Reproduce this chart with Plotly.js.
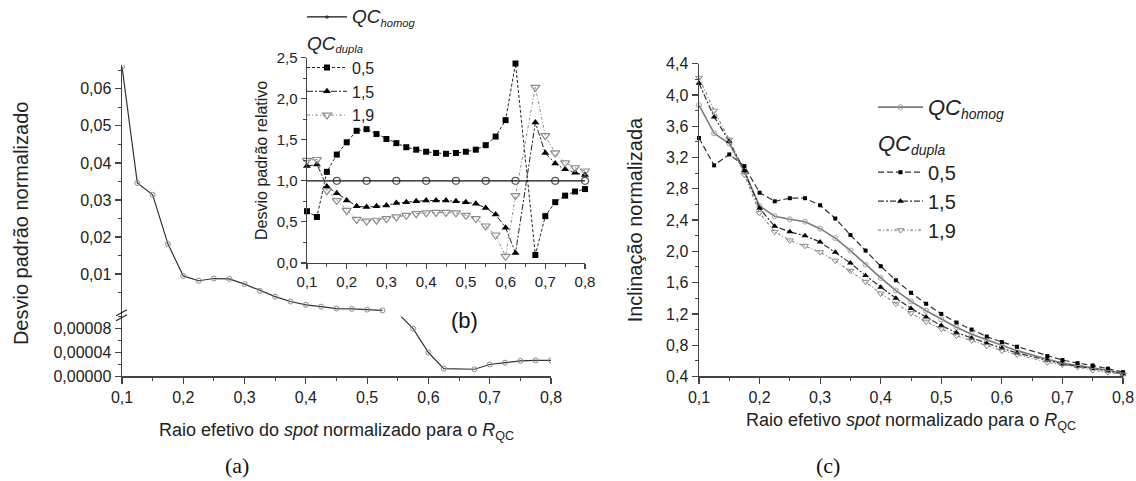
<!DOCTYPE html>
<html><head><meta charset="utf-8">
<script src="https://cdn.plot.ly/plotly-3.0.1.min.js"></script>
<style>html,body{margin:0;padding:0;background:#fff;}#chart{width:1136px;height:481px;}</style>
</head><body><div id="chart"></div>
<script>
// ---------- data ----------
const spotRadius = [0.1,0.125,0.15,0.175,0.2,0.225,0.25,0.275,0.3,0.325,0.35,0.375,0.4,0.425,0.45,0.475,0.5,0.525,0.55,0.575,0.6,0.625,0.675,0.7,0.725,0.75,0.775,0.8];

// (a) normalized standard deviation, read on the upper scale and on the lower (broken) scale
const sigmaNormUpper = [0.066,0.0346,0.0314,0.0181,0.0095,0.0082,0.0088,0.0087,0.0073,0.0055,0.0039,0.0026,0.0017,0.0012,0.0007,0.0006,0.0004,0.0002,null,null,null,null,null,null,null,null,null,null];
const sigmaNormLower = [null,null,null,null,null,null,null,null,null,null,null,null,null,null,null,null,null,null,0.000106,0.00008,0.00004,0.000013,0.000012,0.00002,0.000023,0.000026,0.000027,0.000027];
const upperTickVals = [0.01,0.02,0.03,0.04,0.05,0.06];
const upperMinorVals = [0.005,0.015,0.025,0.035,0.045,0.055,0.065];
const lowerTickVals = [0,0.00004,0.00008];
const lowerMinorVals = [0.00002,0.00006,0.0001];

// (b) relative standard deviation
const relHomog = [1,1,1,1,1,1,1,1,1,1,1,1,1,1,1,1,1,1,1,1,1,1,1,1,1,1,1,1];
const rel05 = [0.63,0.56,1.11,1.32,1.47,1.61,1.63,1.57,1.51,1.46,1.41,1.38,1.355,1.34,1.33,1.34,1.355,1.38,1.435,1.54,1.74,2.43,0.097,0.57,0.74,0.82,0.87,0.90];
const rel15 = [1.18,1.20,0.93,0.85,0.76,0.69,0.68,0.69,0.70,0.73,0.74,0.75,0.76,0.76,0.76,0.75,0.74,0.72,0.67,0.59,0.43,0.12,1.71,1.34,1.21,1.14,1.10,1.07];
const rel19 = [1.25,1.26,0.88,0.76,0.64,0.53,0.51,0.52,0.54,0.56,0.58,0.60,0.61,0.615,0.615,0.61,0.58,0.54,0.45,0.34,0.08,0.82,2.14,1.55,1.34,1.22,1.16,1.12];

// (c) normalized slope
const incHomog = [3.87,3.51,3.38,3.02,2.58,2.45,2.41,2.38,2.29,2.17,2.01,1.83,1.66,1.50,1.36,1.24,1.13,1.03,0.94,0.87,0.79,0.73,0.62,0.57,0.54,0.51,0.48,0.44];
const inc05 = [3.45,3.10,3.24,3.09,2.75,2.64,2.68,2.68,2.59,2.42,2.21,2.01,1.81,1.63,1.47,1.33,1.20,1.09,1.00,0.91,0.84,0.78,0.66,0.61,0.57,0.54,0.50,0.455];
const inc15 = [4.15,3.72,3.41,3.03,2.55,2.32,2.25,2.20,2.12,1.99,1.85,1.69,1.54,1.40,1.27,1.16,1.05,0.96,0.89,0.82,0.76,0.70,0.61,0.56,0.53,0.50,0.47,0.43];
const inc19 = [4.22,3.80,3.43,2.98,2.49,2.25,2.14,2.07,1.99,1.88,1.75,1.61,1.46,1.33,1.21,1.10,1.01,0.92,0.86,0.79,0.73,0.68,0.58,0.55,0.52,0.48,0.455,0.425];

const dupLabels = ['0,5','1,5','1,9'];

// ---------- helpers ----------
const W = 1136, H = 481;
const px = v => v / W;
const py = v => 1 - v / H;
const FONT = 'Liberation Sans, Arial, sans-serif';
const SERIF = 'Liberation Serif, Times New Roman, serif';
const AX = '#444';

function axis(extra) {
  return Object.assign({
    showline: true, linecolor: AX, linewidth: 1.5, mirror: false,
    ticks: 'outside', ticklen: 6, tickwidth: 1.2, tickcolor: AX,
    showgrid: false, zeroline: false, fixedrange: true,
    tickfont: {family: FONT, size: 16, color: '#222'}
  }, extra);
}
function minor(extra) {
  return Object.assign({ticks: 'outside', ticklen: 3, tickwidth: 1, tickcolor: AX, showgrid: false}, extra);
}

const homogName = '<span style="font-size:19px"><i>QC</i></span><sub><i>homog</i></sub>';
const dupTitle = '<span style="font-size:19px"><i>QC</i></span><sub><i>dupla</i></sub>';
const homogNameC = '<span style="font-size:22px"><i>QC</i></span><sub><i>homog</i></sub>';
const dupTitleC = '<span style="font-size:22px"><i>QC</i></span><sub><i>dupla</i></sub>';

// every third point of the inset reference curve carries a marker
const homogMarkSize = spotRadius.map((_, i) => (i >= 3 && (i - 3) % 3 === 0) ? 7 : 0);

const traces = [
  // (a)
  {x: spotRadius, y: sigmaNormUpper, xaxis: 'x', yaxis: 'y2', mode: 'lines+markers', showlegend: false,
   line: {color: '#333', width: 1.2}, marker: {symbol: 'circle-open', size: 5, color: '#8a8a8a', line: {width: 1}}},
  {x: spotRadius, y: sigmaNormLower, xaxis: 'x', yaxis: 'y', mode: 'lines+markers', showlegend: false,
   line: {color: '#333', width: 1.2}, marker: {symbol: 'circle-open', size: 5, color: '#8a8a8a', line: {width: 1}}},
  // (b) inset
  {x: spotRadius, y: relHomog, xaxis: 'x2', yaxis: 'y3', mode: 'lines+markers', name: homogName,
   legend: 'legend', legendgroup: 'h', cliponaxis: false,
   line: {color: '#111', width: 1.2}, marker: {symbol: 'circle-open', size: homogMarkSize, color: '#111', line: {width: 1.2}}},
  {x: spotRadius, y: rel05, xaxis: 'x2', yaxis: 'y3', mode: 'lines+markers', name: dupLabels[0],
   legend: 'legend', legendgroup: 'd', legendgrouptitle: {text: dupTitle}, cliponaxis: false,
   line: {color: '#222', width: 1, dash: '3px,2px'}, marker: {symbol: 'square', size: 6, color: '#000'}},
  {x: spotRadius, y: rel15, xaxis: 'x2', yaxis: 'y3', mode: 'lines+markers', name: dupLabels[1],
   legend: 'legend', legendgroup: 'd', legendgrouptitle: {text: dupTitle}, cliponaxis: false,
   line: {color: '#222', width: 1, dash: '6px,2px,2px,2px'}, marker: {symbol: 'triangle-up', size: 7, color: '#000'}},
  {x: spotRadius, y: rel19, xaxis: 'x2', yaxis: 'y3', mode: 'lines+markers', name: dupLabels[2],
   legend: 'legend', legendgroup: 'd', legendgrouptitle: {text: dupTitle}, cliponaxis: false,
   line: {color: '#8c8c8c', width: 1, dash: '3px,2px,1px,2px'}, marker: {symbol: 'triangle-down-open', size: 8, color: '#8c8c8c', line: {width: 1.2}}},
  // (c)
  {x: spotRadius, y: incHomog, xaxis: 'x3', yaxis: 'y4', mode: 'lines+markers', name: homogNameC,
   legend: 'legend2', legendgroup: 'h', cliponaxis: false,
   line: {color: '#7a7a7a', width: 1.6}, marker: {symbol: 'circle-open', size: 5, color: '#a0a0a0', line: {width: 1}}},
  {x: spotRadius, y: inc05, xaxis: 'x3', yaxis: 'y4', mode: 'lines+markers', name: dupLabels[0],
   legend: 'legend2', legendgroup: 'd', legendgrouptitle: {text: dupTitleC}, cliponaxis: false,
   line: {color: '#333', width: 1.2, dash: '6px,3px'}, marker: {symbol: 'square', size: 4, color: '#000'}},
  {x: spotRadius, y: inc15, xaxis: 'x3', yaxis: 'y4', mode: 'lines+markers', name: dupLabels[1],
   legend: 'legend2', legendgroup: 'd', legendgrouptitle: {text: dupTitleC}, cliponaxis: false,
   line: {color: '#333', width: 1.2, dash: '6px,2px,2px,2px'}, marker: {symbol: 'triangle-up', size: 6, color: '#000'}},
  {x: spotRadius, y: inc19, xaxis: 'x3', yaxis: 'y4', mode: 'lines+markers', name: dupLabels[2],
   legend: 'legend2', legendgroup: 'd', legendgrouptitle: {text: dupTitleC}, cliponaxis: false,
   line: {color: '#8c8c8c', width: 1.2, dash: '3px,2px,1px,2px'}, marker: {symbol: 'triangle-down-open', size: 6, color: '#8c8c8c', line: {width: 1}}}
];

const layout = {
  width: W, height: H, margin: {l: 0, r: 0, t: 0, b: 0},
  paper_bgcolor: '#fff', plot_bgcolor: 'rgba(0,0,0,0)',
  separators: ',.', font: {family: FONT, size: 16, color: '#222'},
  showlegend: true,
  // (a)
  xaxis: axis({domain: [px(122), px(551)], range: [0.1, 0.8], anchor: 'y', dtick: 0.1, tick0: 0.1, tickformat: '.1f',
    minor: minor({dtick: 0.05, tick0: 0.1}),
    title: {text: 'Raio efetivo do <i>spot</i> normalizado para o <i>R</i><sub>QC</sub>', font: {size: 18, family: FONT, color: '#222'}, standoff: 18}}),
  yaxis: axis({domain: [py(376), py(316)], range: [0, 0.0001], anchor: 'x', tickvals: lowerTickVals, tickformat: '.5f',
    minor: minor({tickvals: lowerMinorVals})}),
  yaxis2: axis({domain: [py(316), py(63)], range: [-0.0015, 0.0665], anchor: 'x', tickvals: upperTickVals, tickformat: '.2f',
    minor: minor({tickvals: upperMinorVals})}),
  // (b) inset
  xaxis2: axis({domain: [px(307), px(585)], range: [0.1, 0.8], anchor: 'y3', dtick: 0.1, tick0: 0.1, tickformat: '.1f',
    tickfont: {family: FONT, size: 15, color: '#222'}, ticklen: 5, minor: minor({dtick: 0.05, tick0: 0.1})}),
  yaxis3: axis({domain: [py(262), py(56)], range: [0, 2.5], anchor: 'x2', dtick: 0.5, tick0: 0, tickformat: '.1f',
    tickfont: {family: FONT, size: 15, color: '#222'}, ticklen: 5, minor: minor({dtick: 0.25, tick0: 0}),
    title: {text: 'Desvio padrão relativo', font: {size: 16, family: FONT, color: '#222'}, standoff: 5}}),
  // (c)
  xaxis3: axis({domain: [px(699), px(1123)], range: [0.1, 0.8], anchor: 'y4', dtick: 0.1, tick0: 0.1, tickformat: '.1f',
    minor: minor({dtick: 0.05, tick0: 0.1}),
    title: {text: 'Raio efetivo <i>spot</i> normalizado para o <i>R</i><sub>QC</sub>', font: {size: 18, family: FONT, color: '#222'}, standoff: 8}}),
  yaxis4: axis({domain: [py(376), py(62)], range: [0.4, 4.4], anchor: 'x3', dtick: 0.4, tick0: 0.4, tickformat: '.1f',
    minor: minor({dtick: 0.2, tick0: 0.4}),
    title: {text: 'Inclinação normalizada', font: {size: 20, family: FONT, color: '#222'}, standoff: 18}}),
  legend: {x: px(302), y: 1 + 2 / H, xanchor: 'left', yanchor: 'top', bgcolor: 'rgba(0,0,0,0)', borderwidth: 0,
    font: {family: FONT, size: 16, color: '#222'}, traceorder: 'grouped', tracegroupgap: 3, itemwidth: 40,
    grouptitlefont: {family: FONT, size: 16, color: '#222'}},
  legend2: {x: px(873), y: py(86), xanchor: 'left', yanchor: 'top', bgcolor: 'rgba(0,0,0,0)', borderwidth: 0,
    font: {family: FONT, size: 20, color: '#222'}, traceorder: 'grouped', tracegroupgap: 7, itemwidth: 45,
    grouptitlefont: {family: FONT, size: 20, color: '#222'}},
  annotations: [
    {text: 'Desvio padrão normalizado', xref: 'paper', yref: 'paper', x: px(21), y: py(223), textangle: -90,
     xanchor: 'center', yanchor: 'middle', showarrow: false, font: {family: FONT, size: 20, color: '#222'}},
    {text: '(b)', xref: 'paper', yref: 'paper', x: px(464), y: py(320), xanchor: 'center', yanchor: 'middle', showarrow: false,
     font: {family: FONT, size: 22, color: '#111'}},
    {text: '(a)', xref: 'paper', yref: 'paper', x: px(237), y: py(465), xanchor: 'center', yanchor: 'middle', showarrow: false,
     font: {family: SERIF, size: 22, color: '#111'}},
    {text: '(c)', xref: 'paper', yref: 'paper', x: px(828), y: py(465), xanchor: 'center', yanchor: 'middle', showarrow: false,
     font: {family: SERIF, size: 22, color: '#111'}}
  ],
  shapes: [
    {type: 'line', xref: 'paper', yref: 'paper', x0: px(116), y0: py(315), x1: px(127), y1: py(309), line: {color: '#222', width: 1.2}},
    {type: 'line', xref: 'paper', yref: 'paper', x0: px(116), y0: py(320), x1: px(127), y1: py(314), line: {color: '#222', width: 1.2}}
  ]
};

Plotly.newPlot('chart', traces, layout, {displayModeBar: false, staticPlot: true});
</script>
</body></html>
